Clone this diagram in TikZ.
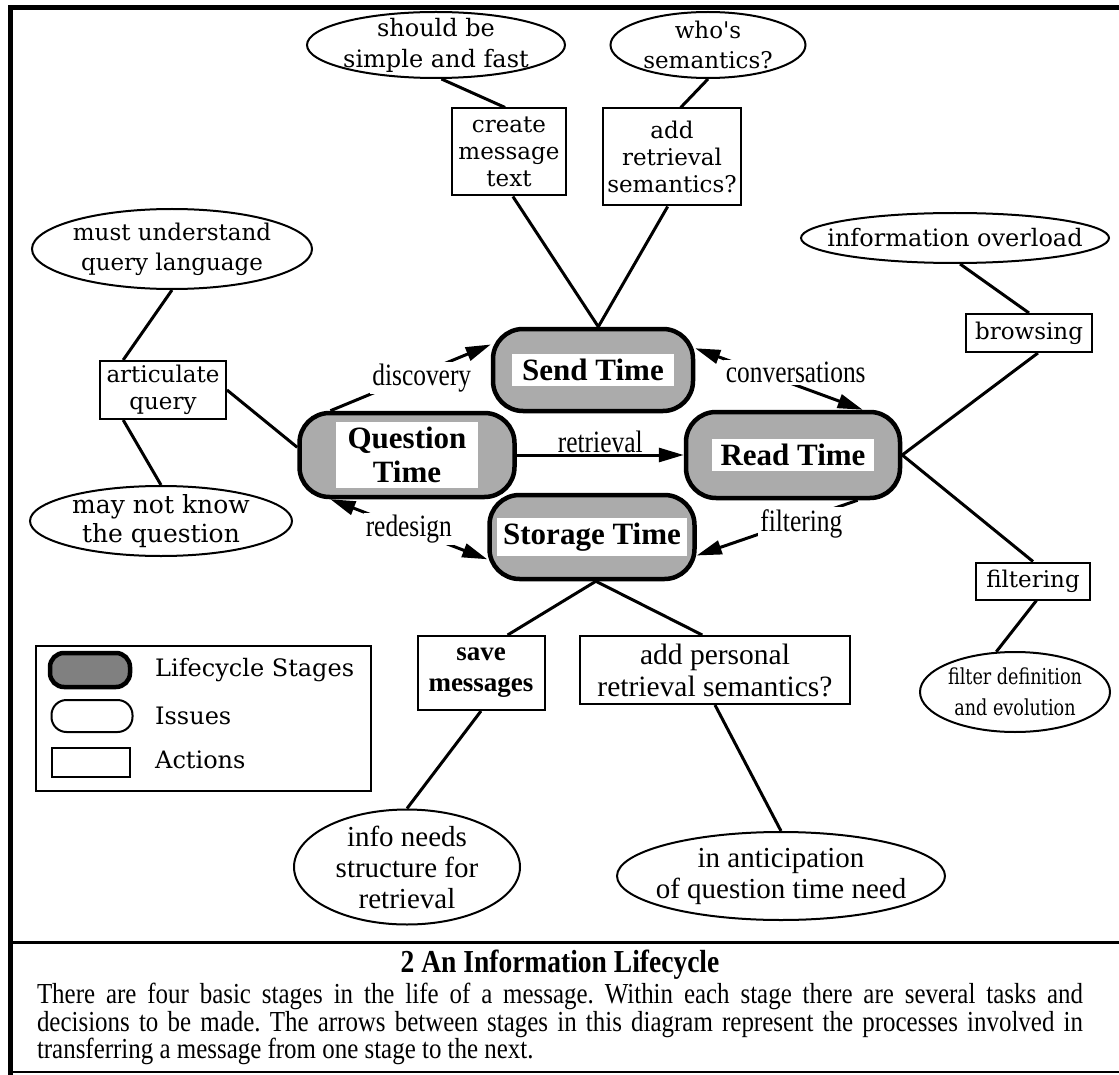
\documentclass[tikz,border=0pt]{standalone}
\usepackage{fontspec}
\setmainfont{Liberation Serif}
\newfontfamily\issuefont{DejaVu Serif}
\newfontfamily\issuecond[FakeStretch=0.8]{DejaVu Serif}
\newfontfamily\condfont[FakeStretch=0.82]{Liberation Serif}
\newfontfamily\capfont[FakeStretch=0.86]{Liberation Serif}
\usetikzlibrary{arrows.meta,shapes.geometric,calc}
\definecolor{stagegray}{gray}{0.67}
\definecolor{legendgray}{gray}{0.5}
\begin{document}
\begin{tikzpicture}[x=1pt,y=-1pt,
  stage/.style={draw,line width=4.5pt,rounded corners=30pt,fill=stagegray,inner sep=0pt},
  stagetext/.style={fill=white,inner xsep=9pt,inner ysep=5pt,align=center,
    font=\fontsize{31}{31}\selectfont\bfseries},
  issue/.style={draw,line width=2pt,ellipse,inner sep=0pt,fill=white},
  issuetext/.style={inner sep=0pt,align=center,font=\issuefont\fontsize{23}{30}\selectfont},
  issuetextb/.style={inner sep=0pt,align=center,font=\fontsize{29}{31}\selectfont},
  action/.style={draw,line width=2pt,rectangle,inner sep=0pt,fill=white,align=center,
    font=\issuefont\fontsize{23}{27}\selectfont},
  conn/.style={line width=3pt},
  flow/.style={line width=3pt,-{Triangle[length=25pt,width=14pt]}},
  biflow/.style={line width=3pt,{Triangle[length=25pt,width=14pt]}-{Triangle[length=25pt,width=14pt]}},
  flowlabel/.style={fill=white,inner sep=2pt,font=\condfont\fontsize{31}{31}\selectfont},
  legtext/.style={anchor=west,inner sep=0pt,font=\issuefont\fontsize{24}{24}\selectfont},
]
\useasboundingbox (0,0) rectangle (1119,1075);
\fill[white] (0,0) rectangle (1119,1075);

% frame
\draw[line width=5pt] (10,1075) -- (10,8) -- (1119,8);
\draw[line width=3pt] (10,942) -- (1119,942);
\draw[line width=2pt] (10,1072) -- (1119,1072);

% stages
\node[stage,minimum width=200pt,minimum height=82pt] (send) at (593,370) {};
\node[stage,minimum width=215pt,minimum height=84pt] (quest) at (407,455) {};
\node[stage,minimum width=214pt,minimum height=86pt] (read) at (793,455) {};
\node[stage,minimum width=205pt,minimum height=84pt] (stor) at (592,537) {};
\node[stagetext,inner xsep=10pt] (sendT) at (send) {Send Time};
\node[stagetext,inner xsep=12pt,inner ysep=5pt,font=\fontsize{31}{34}\selectfont\bfseries] (questT) at (quest) {Question\\Time};
\node[stagetext] (readT) at (read) {Read Time};
\node[stagetext,inner xsep=6pt] (storT) at (stor) {Storage Time};

% issues (ellipses)
\node[issue,minimum width=258pt,minimum height=66pt] (e1) at (436,45) {};
\node[issuetext,font=\issuefont\fontsize{24}{31}\selectfont] (e1t) at (e1) {should be\\simple and fast};
\node[issue,minimum width=195pt,minimum height=66pt] (e2) at (708,45) {};
\node[issuetext] (e2t) at (e2) {who's\\semantics?};
\node[issue,minimum width=280pt,minimum height=80pt] (e3) at (172,249) {};
\node[issuetext] (e3t) at (e3) {must understand\\query language};
\node[issue,minimum width=262pt,minimum height=70pt] (e4) at (161,521) {};
\node[issuetext,font=\issuefont\fontsize{25}{29}\selectfont] (e4t) at (e4) {may not know\\the question};
\node[issue,minimum width=308pt,minimum height=50pt] (e5) at (955,238) {};
\node[issuetext,font=\issuefont\fontsize{24}{24}\selectfont] (e5t) at (e5) {information overload};
\node[issue,minimum width=190pt,minimum height=80pt] (e6) at (1015,692) {};
\node[issuetext,font=\issuecond\fontsize{22}{31}\selectfont] (e6t) at (e6) {filter definition\\and evolution};
\node[issue,minimum width=226pt,minimum height=115pt] (e7) at (407,867) {};
\node[issuetextb] (e7t) at (e7) {info needs\\structure for\\retrieval};
\node[issue,minimum width=328pt,minimum height=88pt] (e8) at (781,876) {};
\node[issuetextb] (e8t) at (e8) {in anticipation\\of question time need};

% actions (boxes)
\node[action,minimum width=114pt,minimum height=87pt] (create) at (509,152) {create\\message\\text};
\node[action,minimum width=138pt,minimum height=97pt] (addret) at (672,157) {add\\retrieval\\semantics?};
\node[action,minimum width=126pt,minimum height=58pt] (art) at (163,390) {articulate\\query};
\node[action,minimum width=126pt,minimum height=38pt] (browse) at (1029,333) {browsing};
\node[action,minimum width=114pt,minimum height=37pt] (filt) at (1033,581) {filtering};
\node[action,minimum width=127pt,minimum height=74pt,font=\fontsize{27}{31}\selectfont\bfseries] (save) at (481,673) {save\\messages};
\node[action,minimum width=270pt,minimum height=68pt,font=\fontsize{29.5}{32}\selectfont] (addpers) at (715,670) {add personal\\retrieval semantics?};

% connectors between issues, actions and stages
\draw[conn] (e1.279) -- (create.95);
\draw[conn] (create.275) -- (send.83);
\draw[conn] (e2.south) -- (addret.80);
\draw[conn] (addret.265) -- (send.83);
\draw[conn] (e3.south) -- (art.143);
\draw[conn] (art.217) -- (e4.north);
\draw[conn] (art.east) -- (quest.176);
\draw[conn] (e5.281) -- (browse.north);
\draw[conn] (browse.294) -- (read.east);
\draw[conn] (read.east) -- (filt.north);
\draw[conn] (filt.280) -- (e6.115);
\draw[conn] (stor.275) -- (save.55);
\draw[conn] (stor.275) -- (addpers.110);
\draw[conn] (save.south) -- (e7.north);
\draw[conn] (addpers.south) -- (e8.north);

% flows between stages
\draw[flow] (quest.150) -- node[flowlabel,pos=0.57,yshift=-5pt] (lDisc) {discovery} (send.166);
\draw[biflow] (send.12) -- node[flowlabel,pos=0.6,yshift=13pt] (lConv) {conversations} (read.33);
\draw[flow] (quest.east) -- node[above=1pt,inner sep=0pt,font=\condfont\fontsize{31}{31}\selectfont] (lRet) {retrieval} (read.west);
\draw[biflow] (quest.210) -- node[flowlabel,pos=0.5] (lRed) {redesign} (stor.192);
\draw[flow] (read.325) -- node[flowlabel,pos=0.35,yshift=-4pt] (lFil) {filtering} (stor.350);

% legend
\node[draw,line width=2pt,minimum width=335pt,minimum height=145pt,anchor=north west,inner sep=0pt] (legend) at (35,645) {};
\node[draw,line width=4.5pt,fill=legendgray,rounded corners=14pt,minimum width=80pt,minimum height=34pt,inner sep=0pt] (legS) at (90,670) {};
\node[draw,line width=2pt,rounded corners=15pt,minimum width=81pt,minimum height=32pt,inner sep=0pt] (legI) at (92,716) {};
\node[draw,line width=2pt,minimum width=78pt,minimum height=29pt,inner sep=0pt] (legA) at (91,762) {};
\node[legtext] (legSt) at (155,670) {Lifecycle Stages};
\node[legtext] (legIt) at (155,716) {Issues};
\node[legtext] (legAt) at (155,760) {Actions};

% caption
\node[inner sep=0pt,font=\capfont\fontsize{32}{32}\selectfont\bfseries] (ctitle) at (560,965) {2 An Information Lifecycle};
\node[inner sep=0pt,anchor=north] (cbody) at (560,983) {\parbox{1046pt}{\capfont\fontsize{29}{25}\selectfont\frenchspacing
There are four basic stages in the life of a message. Within each stage there are several tasks and\linebreak
decisions to be made. The arrows between stages in this diagram represent the processes involved in\linebreak
transferring a message from one stage to the next.}};
\end{tikzpicture}
\end{document}
